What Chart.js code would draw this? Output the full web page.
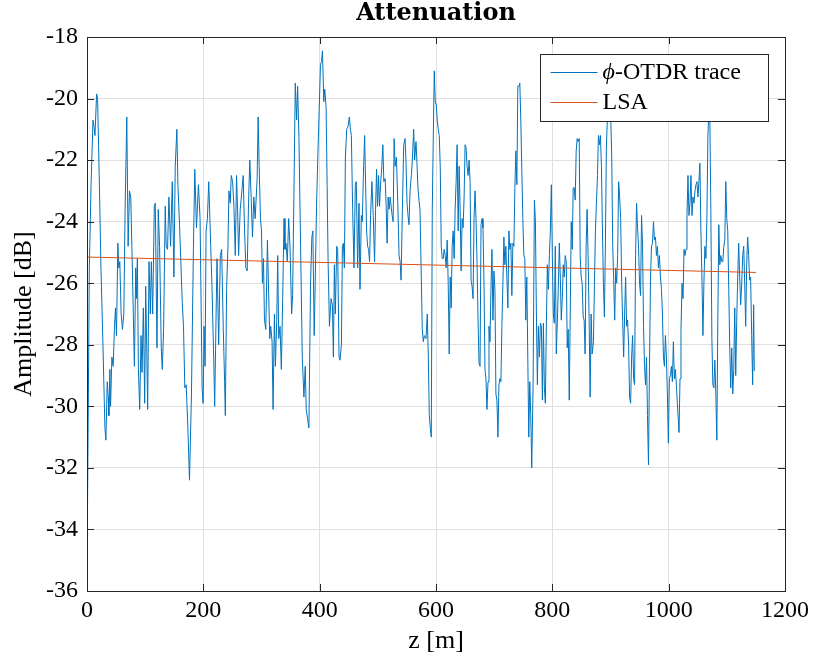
<!DOCTYPE html>
<html>
<head>
<meta charset="utf-8">
<script src="https://cdn.jsdelivr.net/npm/chart.js@4"></script>
<style>
  html, body { margin: 0; padding: 0; background: #fff; }
</style>
</head>
<body>
<canvas id="attChart" width="814" height="664"></canvas>
<script>
"use strict";

// phi-OTDR trace, position along fibre [m]
const zTrace = [
  0, 2, 4, 7, 10.3, 12, 13.7, 16.5, 18.2, 21,
  24, 27.4, 30.8, 32.5, 34.8, 36.5, 37.6, 39.3, 40.5, 42.8,
  45, 47.3, 49, 50.7, 53, 54.7, 56.4, 58.7, 61, 63.3,
  65.5, 68.4, 70.7, 73, 75.2, 77.5, 81.5, 83.8, 84.9, 86.6,
  88.4, 90.6, 92.9, 94.6, 96.9, 99.2, 100.9, 102.6, 104.3, 106.6,
  108.9, 110.6, 112.9, 115.7, 117.4, 120.3, 122.5, 124.8, 127.7, 129.4,
  131.7, 134.5, 136.2, 138.5, 140.8,
  143.7, 146.6, 149.4, 151.7, 154.5, 156.3, 159.1, 163.7, 165.9, 168.2,
  170.5, 173.4, 176.2, 179.6, 183.0, 185.3, 188.2, 191.6, 194.4, 197.9,
  199.6, 201.3, 203.0, 204.7, 207.0, 209.3, 212.7, 215.0, 217.8, 219.5,
  221.8, 223.5, 226.4, 229.2, 231.5, 234.3, 236.6, 237.8, 240.0, 242.3,
  244.0, 246.3, 248.0, 250.3, 252.6, 254.9, 257.1, 258.9, 260.6, 263.4,
  266.3, 268.5, 270.8, 273.1, 275.4, 277.7, 279.9, 282.2, 284.5, 286.8,
  289.1,
  292.5, 294.2, 296.0, 298.2, 300.0, 301.6, 303.4, 305.1, 307.4, 310.2,
  311.9, 314.2, 315.9, 318.2, 319.9, 322.2, 323.9, 326.2, 327.9, 329.6,
  331.9, 334.1, 336.4, 338.7, 340.4, 342.1, 344.4, 346.7, 349.0, 351.8,
  353.5, 355.8, 358.1, 360.4, 362.1, 364.4, 367.2, 370.1, 372.9, 375.2,
  376.9, 379.2, 381.5, 384.3, 386.6, 388.3, 390.6, 392.3, 394.6, 396.8,
  399.1, 401.4, 403.1, 404.8, 407.1, 408.8, 411.1, 412.8, 414.5, 416.8,
  419.6, 421.9, 423.6, 425.3, 427.0, 429.3, 431.0, 433.3, 435.0,
  437.4, 439.1, 440.8, 442.5, 444.2, 446.5, 448.8, 451.0, 452.8, 454.5,
  456.7, 459.0, 461.3, 463.0, 465.3, 467.6, 469.3, 471.6, 473.3, 475.0,
  477.3, 479.0, 480.7, 482.4, 484.1, 485.8, 487.5, 489.8, 492.1, 494.4,
  496.1, 497.8, 499.5, 501.2, 502.9, 504.6, 506.9, 508.6, 510.3, 512.6,
  514.3, 516.0, 517.7, 519.4, 521.2, 522.9, 524.6, 526.3, 528.0, 529.7,
  532.0, 534.3, 536.5, 538.3, 540.0, 542.2, 544.5, 546.8, 548.5, 550.2,
  551.9, 553.6, 555.4, 557.6, 559.3, 561.6, 563.3, 565.6, 567.3, 569.0,
  570.7, 572.5, 574.7, 576.4, 578.2, 579.9,
  582.8, 585.0, 586.8, 588.5, 590.2, 591.9, 593.6, 595.3, 597.0, 598.7,
  600.4, 602.1, 603.9, 605.6, 607.3, 609.0, 610.7, 612.4, 614.1, 615.8,
  617.5, 619.2, 621.0, 622.7, 624.4, 626.1, 627.8, 629.5, 631.2, 632.9,
  634.6, 636.3, 638.1, 639.8, 641.5, 643.2, 644.9, 646.6, 648.3, 650.0,
  651.7, 653.4, 655.2, 656.9, 658.6, 660.3, 662.0, 663.7, 665.4, 667.1,
  668.8, 670.5, 672.3, 674.0, 675.7, 677.4, 679.1, 680.8, 682.5, 684.2,
  685.9, 687.6, 689.4, 691.1, 692.8, 694.5, 696.2, 697.9, 699.6, 701.3,
  703.0, 704.7, 706.5, 708.2, 709.9, 711.6, 713.3, 715.0, 716.7, 718.4,
  720.1, 721.8, 723.6,
  725.3, 727.0, 728.7, 730.4, 732.2, 733.9, 735.6, 737.3, 739.0, 740.7,
  742.4, 744.1, 745.8, 747.5, 749.3, 751.0, 752.7, 754.4, 756.1, 757.8,
  759.5, 761.2, 762.9, 764.6, 766.9, 769.2, 770.9, 772.6, 774.3, 776.0,
  777.8, 779.5, 781.2, 782.9, 784.6, 786.3, 788.0, 789.7, 791.4, 793.1,
  794.9, 796.6, 798.3, 800.0, 801.7, 803.4, 805.1, 806.8, 808.5, 810.2,
  812.0, 813.7, 815.4, 817.1, 818.8, 820.5, 822.2, 823.9, 825.6, 827.3,
  829.1, 830.8, 832.5, 834.2, 835.9, 837.6, 839.3, 841.0, 842.7, 844.4,
  846.2, 847.9, 849.6, 851.3, 853.0, 854.7, 856.4, 858.1, 859.8, 861.5,
  863.3, 865.0, 866.7, 868.4,
  870.7, 872.4, 874.1, 875.8, 877.6, 879.3, 881.0, 882.7, 884.4, 886.1,
  887.8, 889.5, 891.2, 892.9, 894.7, 896.4, 898.1, 900.4, 902.1, 903.8,
  905.5, 907.2, 908.9, 910.6, 912.3, 914.0, 915.7, 917.5, 919.2, 920.9,
  922.6, 924.3, 926.0, 927.7, 929.4, 931.1, 932.8, 934.6, 936.3, 938.0,
  939.7, 941.4, 943.1, 944.8, 946.5, 948.2, 949.9, 951.7, 953.4, 955.1,
  956.8, 958.5, 960.2, 961.9, 963.6, 965.3, 967.0, 968.8, 970.5, 972.2,
  973.9, 975.6, 977.3, 979.0, 980.7, 982.4, 984.1, 985.9, 987.6, 989.3,
  991.0, 992.7, 994.4, 996.1, 997.8, 999.5, 1001.2, 1003.0, 1004.7, 1006.4,
  1008.1, 1009.8, 1011.5, 1013.2, 1014.9,
  1017.8, 1019.5, 1021.2, 1023.0, 1024.7, 1026.4, 1028.1, 1029.8, 1031.5, 1033.2,
  1034.9, 1036.6, 1038.3, 1040.1, 1041.8, 1043.5, 1045.2, 1046.9, 1048.6, 1050.3,
  1052.0, 1053.7, 1055.4, 1057.2, 1058.9, 1060.6, 1062.3, 1064.0, 1065.7, 1067.4,
  1069.1, 1070.8, 1072.5, 1074.3, 1076.0, 1077.7, 1079.4, 1081.1, 1082.8, 1084.5,
  1086.2, 1087.9, 1089.6, 1091.4, 1093.1, 1094.8, 1096.5, 1098.2, 1099.9, 1101.6,
  1103.3, 1105.0, 1106.7, 1108.5, 1110.2, 1111.9, 1113.6, 1115.3, 1117.0, 1118.7,
  1120.4, 1122.1, 1123.8, 1125.6, 1127.3, 1129.0, 1130.7, 1132.4, 1134.1, 1135.8,
  1137.5, 1139.2, 1140.9, 1142.7, 1144.4, 1146.1, 1147.2
];

// amplitude of the trace [dB]
const ampTrace = [
  -35.4, -30.5, -25.5, -22.8, -20.7, -20.9, -21.2, -19.85, -20.0, -22.5,
  -25.5, -28.0, -30.7, -31.1, -29.2, -29.7, -30.3, -28.8, -30.0, -28.4,
  -28.7, -27.4, -26.8, -27.7, -24.7, -25.5, -25.3, -27.0, -27.5, -27.0,
  -23.6, -20.6, -24.8, -23.0, -23.2, -25.1, -28.7, -25.5, -26.5, -25.2,
  -28.8, -30.1, -27.7, -28.9, -26.8, -29.9, -26.1, -28.0, -30.1, -25.3,
  -27.0, -25.3, -27.0, -23.5, -23.4, -28.1, -23.6, -24.8, -28.1, -28.8,
  -27.5, -23.5, -24.8, -24.9, -23.2,
  -24.8, -22.7, -25.8, -22.2, -21.0, -22.8, -24.1, -26.6, -27.4, -29.4,
  -29.3, -30.7, -32.4, -29.6, -24.8, -22.3, -24.2, -22.8, -23.9, -29.4,
  -29.9, -27.4, -28.7, -24.3, -23.9, -22.7, -24.8, -26.2, -28.4, -30.0,
  -27.2, -25.2, -28.0, -25.1, -24.9, -27.5, -29.2, -30.3, -26.2, -24.8,
  -23.0, -23.4, -22.5, -22.7, -23.5, -25.1, -22.5, -23.6, -25.1, -23.6,
  -23.0, -22.5, -24.2, -25.5, -25.6, -23.4, -22.0, -23.2, -24.5, -23.2,
  -23.9,
  -22.6, -20.6, -22.2, -23.9, -24.3, -26.0, -25.2, -27.2, -27.5, -24.6,
  -26.0, -27.8, -27.4, -27.9, -30.1, -27.0, -28.7, -27.2, -25.1, -27.8,
  -27.4, -28.8, -26.5, -23.9, -24.9, -24.7, -25.3, -23.9, -24.8, -27.0,
  -26.4, -23.0, -19.5, -20.7, -19.6, -21.3, -24.8, -28.4, -29.7, -28.7,
  -30.1, -30.4, -30.7, -26.0, -24.5, -24.3, -27.7, -26.0, -23.5, -21.9,
  -20.4, -18.9, -18.8, -18.45, -20.1, -19.7, -20.3, -22.8, -25.3, -27.4,
  -26.5, -26.7, -28.4, -25.4, -27.0, -24.8, -24.9, -28.4, -28.5,
  -28.0, -24.8, -24.7, -25.5, -21.9, -21.0, -20.9, -20.6, -21.0, -21.2,
  -23.6, -25.5, -22.8, -22.7, -25.5, -23.4, -26.2, -23.8, -24.0, -22.6,
  -21.2, -22.8, -24.3, -24.8, -24.9, -25.3, -23.8, -22.7, -23.8, -25.3,
  -23.6, -22.3, -23.5, -22.5, -23.5, -22.8, -22.2, -21.5, -22.7, -22.6,
  -23.5, -24.7, -23.2, -23.6, -23.2, -23.5, -23.8, -24.0, -21.3, -22.2,
  -21.9, -23.4, -25.1, -25.3, -25.9, -23.6, -21.5, -21.3, -22.1, -23.4,
  -23.8, -24.1, -23.0, -22.5, -22.0, -21.0, -22.0, -21.4, -22.1, -22.9,
  -23.3, -23.6, -25.8, -27.5, -27.9, -27.7,
  -27.8, -27.0, -28.4, -30.3, -30.7, -31.0, -23.6, -21.3, -19.1, -20.1,
  -20.2, -20.7, -21.0, -21.2, -22.2, -24.8, -25.2, -25.2, -24.9, -25.1,
  -25.5, -24.6, -26.0, -28.3, -25.8, -26.8, -24.8, -24.3, -25.2, -23.6,
  -22.7, -21.5, -24.3, -22.2, -23.6, -25.6, -23.9, -24.2, -23.2, -21.5,
  -21.6, -22.2, -22.5, -22.0, -22.7, -25.9, -26.1, -26.5, -23.9, -23.0,
  -23.9, -25.3, -27.2, -28.6, -28.7, -24.1, -23.9, -24.2, -26.0, -28.8,
  -29.1, -30.1, -29.2, -27.4, -27.9, -26.2, -24.9, -27.2, -25.6, -26.2,
  -29.6, -29.8, -31.0, -29.3, -29.1, -29.2, -27.4, -26.0, -24.5, -25.4,
  -24.8, -25.8, -26.8,
  -24.3, -24.9, -24.7, -26.4, -24.7, -24.8, -22.9, -21.7, -22.8, -19.6,
  -19.6, -19.5, -20.7, -22.3, -23.9, -25.1, -25.2, -27.2, -25.8, -28.4,
  -31.0, -29.2, -30.3, -32.0, -29.3, -23.3, -24.0, -27.0, -29.3, -27.4,
  -28.4, -27.3, -27.4, -29.8, -27.3, -29.4, -29.9, -27.4, -25.4, -26.2,
  -25.1, -24.3, -22.8, -25.1, -27.0, -27.3, -24.8, -28.3, -27.3, -26.2,
  -24.7, -25.8, -27.2, -26.5, -25.4, -25.8, -25.1, -25.3, -28.1, -27.5,
  -29.8, -27.0, -24.0, -24.9, -22.9, -22.9, -23.3, -21.7, -21.3, -21.4,
  -21.3, -25.1, -25.8, -26.0, -27.1, -27.2, -28.3, -24.8, -23.6, -25.1,
  -27.2, -29.7, -27.0, -28.3,
  -27.9, -26.0, -24.3, -23.4, -22.5, -21.2, -21.5, -21.2, -22.2, -24.2,
  -26.0, -27.1, -24.8, -21.6, -20.6, -19.9, -19.6, -20.6, -21.9, -24.8,
  -25.9, -27.2, -25.5, -26.0, -25.1, -22.7, -23.2, -23.9, -26.0, -27.2,
  -28.4, -27.0, -25.8, -27.4, -27.2, -28.0, -29.7, -29.9, -28.4, -27.7,
  -29.1, -29.3, -25.1, -23.4, -24.2, -24.8, -26.0, -26.4, -23.8, -24.8,
  -27.4, -28.7, -29.3, -28.4, -30.3, -31.9, -28.7, -25.8, -24.8, -24.7,
  -24.0, -24.6, -24.5, -25.1, -24.8, -25.5, -25.1, -25.8, -26.2, -27.0,
  -28.4, -28.7, -27.7, -28.4, -29.6, -31.2, -29.1, -29.0, -28.7, -29.2,
  -27.9, -29.1, -28.8, -29.3, -29.9,
  -30.85, -29.1, -27.5, -26.0, -26.5, -24.9, -25.1, -24.9, -23.8, -22.5,
  -23.8, -23.4, -22.5, -23.8, -23.2, -23.4, -23.0, -22.8, -22.7, -23.2,
  -22.7, -22.1, -24.3, -25.8, -27.7, -26.0, -24.8, -25.2, -23.9, -21.3,
  -20.3, -20.7, -23.6, -27.8, -29.3, -29.4, -28.5, -29.6, -31.1, -27.2,
  -24.1, -25.4, -25.1, -25.3, -25.3, -24.8, -24.6, -22.7, -23.9, -24.3,
  -26.2, -28.1, -29.4, -28.1, -29.6, -28.8, -26.8, -29.0, -27.2, -25.8,
  -24.7, -25.8, -26.7, -26.0, -25.1, -24.8, -26.0, -27.4, -25.4, -24.5,
  -25.1, -25.9, -25.8, -27.7, -29.3, -26.7, -28.85
];

// least squares fit line
const lsaZ = [0, 1150];
const lsaAmp = [-25.15, -25.65];

const seriesNames = ["-OTDR trace", "LSA"];
const titleText = "Attenuation";
const xRange = [0, 1200, 200];
const yRange = [-36, -18, 2];

const traceColor = "#0072BD";
const lsaColor = "#D95319";
const axisColor = "#262626";
const serif = "'Liberation Serif', 'Times New Roman', serif";

function toPoints(xs, ys) {
  const pts = [];
  const n = Math.min(xs.length, ys.length);
  for (let i = 0; i < n; i++) {
    pts.push({ x: xs[i], y: ys[i] });
  }
  return pts;
}

// title centred on the axes, like matlab does
const axesTitle = {
  id: "axesTitle",
  afterDraw(chart) {
    const { ctx, chartArea: a } = chart;
    ctx.save();
    ctx.fillStyle = "#000";
    ctx.font = "bold 24px 'DejaVu Serif', serif";
    ctx.textAlign = "center";
    ctx.textBaseline = "middle";
    ctx.fillText(titleText, (a.left + a.right) / 2, a.top - 23);
    ctx.restore();
  }
};

// legend inside the axes, top right, hides the trace behind it
const boxLegend = {
  id: "boxLegend",
  afterDraw(chart) {
    const { ctx, chartArea: a } = chart;
    const w = 228, h = 67;
    const x0 = Math.round(a.right - 17 - w) + 0.5;
    const y0 = Math.round(a.top + 17) + 0.5;
    ctx.save();
    ctx.fillStyle = "#ffffff";
    ctx.fillRect(x0, y0, w, h);
    ctx.lineWidth = 1;
    ctx.strokeStyle = axisColor;
    ctx.strokeRect(x0, y0, w, h);

    const rows = [y0 + 18, y0 + 48];
    const colors = [traceColor, lsaColor];
    for (let i = 0; i < rows.length; i++) {
      ctx.beginPath();
      ctx.strokeStyle = colors[i];
      ctx.moveTo(x0 + 10, rows[i]);
      ctx.lineTo(x0 + 57, rows[i]);
      ctx.stroke();
    }

    ctx.fillStyle = "#000";
    ctx.textBaseline = "middle";
    ctx.textAlign = "left";
    let tx = x0 + 62;
    ctx.font = "italic 24px " + serif;
    ctx.fillText("\u03D5", tx, rows[0]);
    tx += ctx.measureText("\u03D5").width;
    ctx.font = "24px " + serif;
    ctx.fillText(seriesNames[0], tx, rows[0]);
    ctx.fillText(seriesNames[1], x0 + 62, rows[1]);
    ctx.restore();
  }
};

// box round the axes with ticks pointing inwards
const axesBox = {
  id: "axesBox",
  afterDraw(chart) {
    const { ctx, chartArea: a, scales } = chart;
    const tl = 7;
    ctx.save();
    ctx.strokeStyle = axisColor;
    ctx.lineWidth = 1;
    ctx.beginPath();
    scales.x.ticks.forEach(t => {
      const px = Math.round(scales.x.getPixelForValue(t.value)) + 0.5;
      ctx.moveTo(px, a.bottom); ctx.lineTo(px, a.bottom - tl);
      ctx.moveTo(px, a.top); ctx.lineTo(px, a.top + tl);
    });
    scales.y.ticks.forEach(t => {
      const py = Math.round(scales.y.getPixelForValue(t.value)) + 0.5;
      ctx.moveTo(a.left, py); ctx.lineTo(a.left + tl, py);
      ctx.moveTo(a.right, py); ctx.lineTo(a.right - tl, py);
    });
    ctx.stroke();
    ctx.strokeRect(Math.round(a.left) + 0.5, Math.round(a.top) + 0.5,
      Math.round(a.right - a.left), Math.round(a.bottom - a.top));
    ctx.restore();
  }
};

const chartData = {
  datasets: [
    {
      label: seriesNames[1],
      data: toPoints(lsaZ, lsaAmp),
      borderColor: lsaColor,
      borderWidth: 1,
      pointRadius: 0,
      order: 0
    },
    {
      label: seriesNames[0],
      data: toPoints(zTrace, ampTrace),
      borderColor: traceColor,
      borderWidth: 1,
      pointRadius: 0,
      tension: 0,
      order: 1
    }
  ]
};

const config = {
  type: "line",
  data: chartData,
  options: {
    responsive: false,
    animation: false,
    devicePixelRatio: 1,
    layout: { padding: { left: 0, right: 26, top: 37, bottom: 0 } },
    plugins: {
      legend: { display: false },
      tooltip: { enabled: false },
      title: { display: false }
    },
    scales: {
      x: {
        type: "linear",
        min: xRange[0],
        max: xRange[1],
        afterFit: s => { s.height = 73; },
        ticks: {
          stepSize: xRange[2],
          color: "#000",
          padding: 5,
          maxRotation: 0,
          font: { family: serif, size: 24 },
          callback: v => String(v)
        },
        grid: { color: "#dfdfdf", drawTicks: false },
        border: { display: false },
        title: {
          display: true,
          text: "z [m]",
          color: "#000",
          font: { family: serif, size: 26 },
          padding: { top: 0, bottom: 7 }
        }
      },
      y: {
        min: yRange[0],
        max: yRange[1],
        afterFit: s => { s.width = 87; },
        ticks: {
          stepSize: yRange[2],
          color: "#000",
          padding: 9,
          font: { family: serif, size: 24 },
          callback: v => String(v)
        },
        grid: { color: "#dfdfdf", drawTicks: false },
        border: { display: false },
        title: {
          display: true,
          text: "Amplitude [dB]",
          color: "#000",
          font: { family: serif, size: 26 },
          padding: { top: 9, bottom: 0 }
        }
      }
    }
  },
  plugins: [axesTitle, boxLegend, axesBox]
};

const attChart = new Chart(document.getElementById("attChart"), config);
</script>
</body>
</html>
